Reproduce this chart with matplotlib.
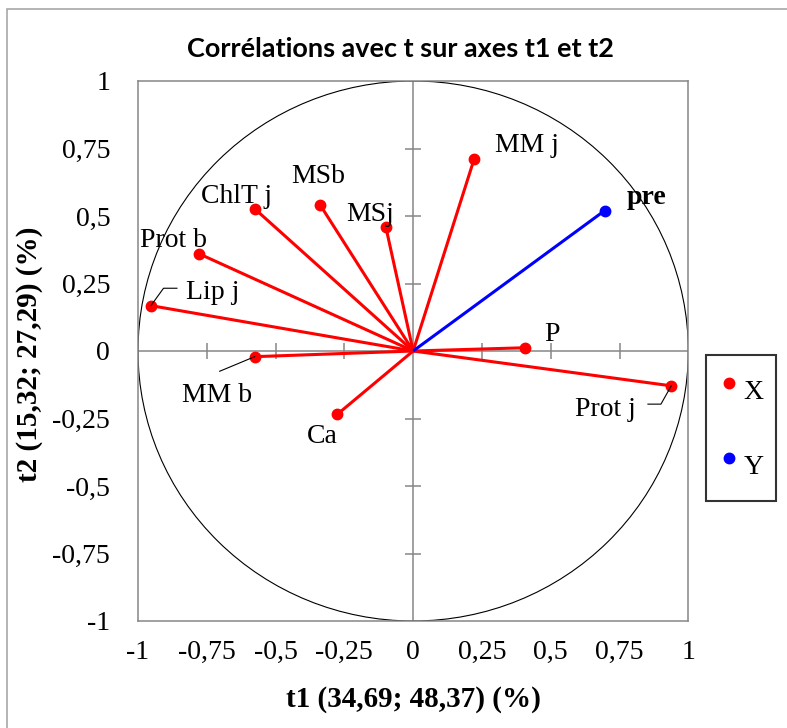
import matplotlib
matplotlib.use('Agg')
import matplotlib.pyplot as plt
from matplotlib.patches import Circle, Rectangle
from matplotlib.lines import Line2D
from matplotlib.transforms import IdentityTransform
import numpy as np

# ---------------- data ----------------
x_vars = ['MM j', 'P', 'Prot j', 'Ca', 'MM b', 'Lip j', 'Prot b', 'ChlT j', 'MSb', 'MSj']
x_t1 = [0.222, 0.406, 0.938, -0.275, -0.576, -0.953, -0.778, -0.574, -0.338, -0.099]
x_t2 = [0.712, 0.012, -0.129, -0.234, -0.021, 0.168, 0.360, 0.525, 0.541, 0.458]

y_vars = ['pre']
y_t1 = [0.696]
y_t2 = [0.520]

ticks = [-1, -0.75, -0.5, -0.25, 0, 0.25, 0.5, 0.75, 1]
legend_labels = ['X', 'Y']
title = 'Corrélations avec t sur axes t1 et t2'
xlabel = 't1 (34,69; 48,37) (%)'
ylabel = 't2 (15,32; 27,29) (%)'

# label offsets in pixels (dx right, dy up) relative to each point
label_off = {
    'MM j': (21, 7), 'P': (19.3, 7), 'Prot j': (-96.3, -30), 'Ca': (-30.3, -28.4),
    'MM b': (-72.6, -45), 'Lip j': (35.3, 6.7), 'Prot b': (-59.4, 7),
    'ChlT j': (-54, 6.6), 'MSb': (-29, 21.7), 'MSj': (-39.7, 6.6), 'pre': (22.3, 6.7),
}
# leader lines in pixels (dx right, dy down) from the point
leaders = {
    'Lip j': [(0, 0), (12.6, -17.4), (26, -17.4)],
    'Prot j': [(0, 0), (-10.3, 18.3), (-23.3, 18.3)],
    'MM b': [(0, 0), (-35, 14.6)],
}

plt.rcParams['font.family'] = ['Liberation Serif', 'DejaVu Serif']
W, H = 787, 728
DPI = 100
fig = plt.figure(figsize=(W / DPI, H / DPI), dpi=DPI)
ax = fig.add_axes([138 / W, 1 - 621 / H, (688.3 - 138) / W, (621 - 81) / H])
ax.set_xlim(-1, 1)
ax.set_ylim(-1, 1)

gray = '#868686'
for s in ax.spines.values():
    s.set_color(gray)
    s.set_linewidth(1.1)

def fmt(v):
    if v == int(v):
        return str(int(v))
    return ('%g' % v).replace('.', ',')

ax.set_xticks(ticks)
ax.set_xticklabels([fmt(t) for t in ticks])
ax.set_yticks(ticks)
ax.set_yticklabels([fmt(t) for t in ticks])
ax.tick_params(axis='x', length=0, pad=13.5, labelsize=20)
ax.tick_params(axis='y', length=0, pad=20, labelsize=20)

# zero axes with crossing ticks
ax.axhline(0, color=gray, lw=1.1, zorder=1)
ax.axvline(0, color=gray, lw=1.1, zorder=1)
inner = [t for t in ticks if t not in (-1, 1, 0)]
ax.plot(inner, [0] * len(inner), ls='none', marker='|', ms=12, mew=1.1, color=gray, zorder=1)
ax.plot([0] * len(inner), inner, ls='none', marker='_', ms=12, mew=1.1, color=gray, zorder=1)

# unit circle
ax.add_patch(Circle((0, 0), 1, fill=False, edgecolor='black', lw=0.8, zorder=2))

# vectors
for name, a, b in zip(x_vars, x_t1, x_t2):
    ax.plot([0, a], [0, b], color='#ff0000', lw=2.2, zorder=3, solid_capstyle='butt')
    ax.plot([a], [b], ls='none', marker='o', ms=7.5, color='#ff0000', zorder=4)
for name, a, b in zip(y_vars, y_t1, y_t2):
    ax.plot([0, a], [0, b], color='#0000ff', lw=2.2, zorder=3, solid_capstyle='butt')
    ax.plot([a], [b], ls='none', marker='o', ms=7.5, color='#0000ff', zorder=4)

# labels
pt = 72 / DPI
for name, a, b in zip(x_vars + y_vars, x_t1 + y_t1, x_t2 + y_t2):
    dx, dy = label_off[name]
    ax.annotate(name, (a, b), xytext=(dx * pt, dy * pt), textcoords='offset points',
                ha='left', va='baseline', fontsize=20,
                fontweight='bold' if name in y_vars else 'normal', zorder=5)

fig.canvas.draw()
allv = x_vars + y_vars
for name, pts in leaders.items():
    i = allv.index(name)
    a = (x_t1 + y_t1)[i]
    b = (x_t2 + y_t2)[i]
    px, py = ax.transData.transform((a, b))
    xs = [px + d[0] for d in pts]
    ys = [py - d[1] for d in pts]
    fig.add_artist(Line2D(xs, ys, transform=IdentityTransform(), color='black', lw=0.8))

# legend
leg = fig.legend(handles=[Line2D([], [], ls='none', marker='o', ms=7.5, color='#ff0000'),
                          Line2D([], [], ls='none', marker='o', ms=7.5, color='#0000ff')],
                 labels=legend_labels, loc='upper left',
                 bbox_to_anchor=(706 / W, 1 - 355 / H), fontsize=20,
                 frameon=True, fancybox=False, borderpad=0.45, handlelength=0.73,
                 handletextpad=0.16, handleheight=2.2, labelspacing=1.0,
                 borderaxespad=0)
leg.get_frame().set_edgecolor('black')
leg.get_frame().set_linewidth(1.5)

# title and axis labels
t = fig.text(400 / W, 1 - 56.7 / H, title, ha='center', va='baseline',
             family=['Lato', 'DejaVu Sans'], fontweight='bold', fontsize=17)
fig.canvas.draw()
w = t.get_window_extent().width
t.set_fontsize(17 * 427 / w)

fig.text(413.7 / W, 1 - 707 / H, xlabel, ha='center', va='baseline',
         fontweight='bold', fontsize=21)
fig.text(30 / W, 1 - 354 / H, ylabel, ha='center', va='center', rotation=90,
         fontweight='bold', fontsize=21)

# outer border
fig.add_artist(Rectangle((7 / W, -0.1), 1.2, 1 - 9 / H + 0.1, transform=fig.transFigure,
                         fill=False, edgecolor='#a0a0a0', lw=1.1))

fig.savefig('out.png', dpi=DPI)
